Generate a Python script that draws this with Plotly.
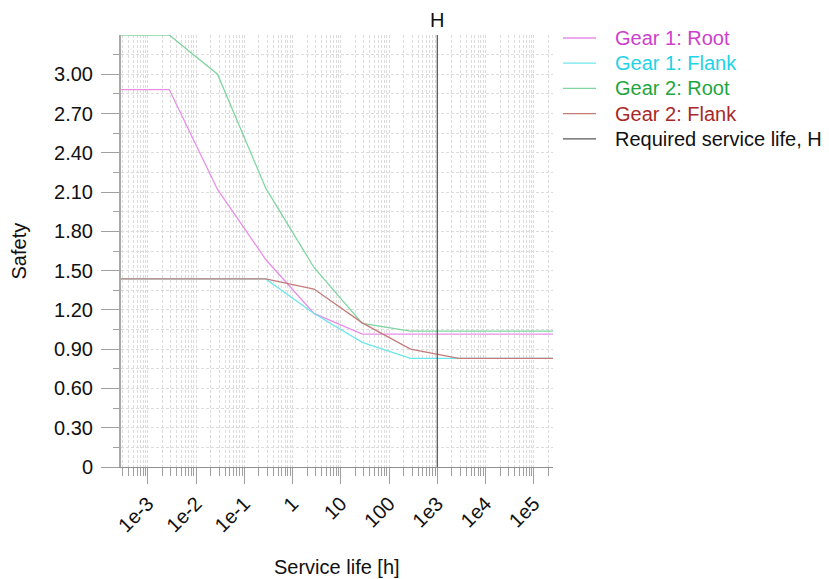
import numpy as np
import plotly.graph_objects as go

# ---- data ----
service_life = [2.78e-4, 2.78e-3, 2.78e-2, 2.78e-1, 2.78, 27.8, 278, 2780, 27800, 278000]
gear1_root = [2.883, 2.883, 2.12, 1.585, 1.173, 1.015, 1.015, 1.015, 1.015, 1.015]
gear1_flank = [1.437, 1.437, 1.437, 1.437, 1.173, 0.952, 0.830, 0.830, 0.830, 0.830]
gear2_root = [3.30, 3.30, 3.00, 2.13, 1.524, 1.097, 1.038, 1.038, 1.038, 1.038]
gear2_flank = [1.437, 1.437, 1.437, 1.437, 1.359, 1.101, 0.901, 0.830, 0.830, 0.830]
required_life = 1000
safety_max = 3.3

x_tickvals = [1e-3, 1e-2, 1e-1, 1, 10, 100, 1e3, 1e4, 1e5]
x_ticktext = ["1e-3", "1e-2", "1e-1", "1", "10", "100", "1e3", "1e4", "1e5"]
y_tickvals = [0, 0.3, 0.6, 0.9, 1.2, 1.5, 1.8, 2.1, 2.4, 2.7, 3.0]
y_ticktext = ["0", "0.30", "0.60", "0.90", "1.20", "1.50", "1.80", "2.10", "2.40", "2.70", "3.00"]
y_minor = [0.15, 0.45, 0.75, 1.05, 1.35, 1.65, 1.95, 2.25, 2.55, 2.85, 3.15]
x_minor = [k * 10.0 ** n for n in range(-4, 6) for k in range(2, 10)]

FONT = "Liberation Sans"
FS = 20

series = [
    ("Gear 1: Root", gear1_root, "#e88ee8", "#cc3fcc"),
    ("Gear 1: Flank", gear1_flank, "#6ee6ee", "#1fd3e6"),
    ("Gear 2: Root", gear2_root, "#7fd6a0", "#1fa640"),
    ("Gear 2: Flank", gear2_flank, "#c47c7a", "#a82828"),
]
req_name, req_line, req_text = "Required service life, H", "#5a5a5a", "#111111"

fig = go.Figure()
for name, vals, lc, tc in series:
    fig.add_trace(go.Scatter(
        x=service_life, y=vals, mode="lines",
        line=dict(color=lc, width=1.3), name=name, showlegend=False,
    ))
fig.add_trace(go.Scatter(
    x=[required_life, required_life], y=[0, safety_max], mode="lines",
    line=dict(color=req_line, width=1.3), name=req_name, showlegend=False,
))

# legend drawn as text + line samples (plot area: 121..553 px wide, 35..467 px tall)
pw = 432.0
legend_entries = [(n, lc, tc) for n, _, lc, tc in series] + [(req_name, req_line, req_text)]
for i, (name, lc, tc) in enumerate(legend_entries):
    yc = 38 + i * 25.2
    yp = (467 - yc) / pw
    fig.add_shape(type="line", xref="paper", yref="paper",
                  x0=(563 - 121) / pw, x1=(596 - 121) / pw, y0=yp, y1=yp,
                  line=dict(color=lc, width=1.3))
    fig.add_annotation(x=(613 - 121) / pw, y=yp, xref="paper", yref="paper",
                       text=name, showarrow=False, xanchor="left", yanchor="middle",
                       font=dict(family=FONT, size=FS, color=tc))

fig.add_annotation(x=np.log10(required_life), y=1.035, xref="x", yref="paper",
                   text="H", showarrow=False, font=dict(family=FONT, size=FS, color="#111"),
                   yanchor="middle")
fig.add_annotation(x=0.5, y=-0.232, xref="paper", yref="paper", text="Service life [h]",
                   showarrow=False, font=dict(family=FONT, size=FS, color="#111"),
                   yanchor="middle")
fig.add_annotation(x=-0.235, y=0.5, xref="paper", yref="paper", text="Safety", textangle=-90,
                   showarrow=False, font=dict(family=FONT, size=FS, color="#111"),
                   xanchor="center", yanchor="middle")

grid_col = "#dcdcdc"
gdash = "3px,2px"
fig.update_xaxes(
    type="log",
    range=[np.log10(2.78e-4), np.log10(2.5e5)],
    tickmode="array", tickvals=x_tickvals, ticktext=x_ticktext,
    tickangle=-45,
    ticks="outside", ticklen=16, tickcolor="#a0a0a0", tickwidth=1,
    showline=True, linecolor="#909090", linewidth=1,
    showgrid=True, gridcolor=grid_col, griddash=gdash, gridwidth=1,
    minor=dict(tickmode="array", tickvals=x_minor, ticks="outside", ticklen=8,
               tickcolor="#a0a0a0", showgrid=True, gridcolor=grid_col, griddash=gdash),
    tickfont=dict(family=FONT, size=FS, color="#111"),
    zeroline=False,
)
fig.update_yaxes(
    range=[0, safety_max],
    tickmode="array", tickvals=y_tickvals, ticktext=y_ticktext,
    ticks="outside", ticklen=18, tickcolor="#a0a0a0", tickwidth=1,
    showline=True, linecolor="#a8a8a8", linewidth=2,
    showgrid=True, gridcolor=grid_col, griddash=gdash, gridwidth=1,
    minor=dict(tickmode="array", tickvals=y_minor, ticks="outside", ticklen=6,
               tickcolor="#a0a0a0", showgrid=True, gridcolor=grid_col, griddash=gdash),
    tickfont=dict(family=FONT, size=FS, color="#111"),
    ticklabelstandoff=4,
    zeroline=False,
)

fig.update_layout(
    width=829, height=579,
    margin=dict(l=121, r=276, t=35, b=112),
    plot_bgcolor="white", paper_bgcolor="white",
    font=dict(family=FONT, size=FS, color="#111"),
    showlegend=False,
)

fig.write_html("out.html")
